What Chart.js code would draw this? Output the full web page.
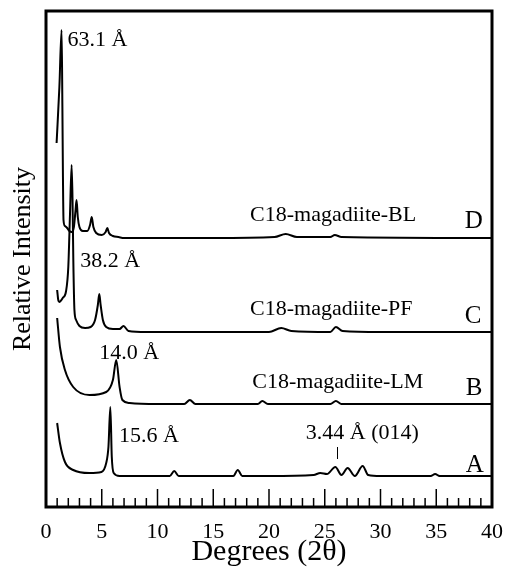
<!DOCTYPE html>
<html>
<head>
<meta charset="utf-8">
<script src="https://cdn.jsdelivr.net/npm/chart.js@4.4.1/dist/chart.umd.min.js"></script>
<style>
  html, body { margin: 0; padding: 0; background: #fff; }
  #wrap { width: 507px; height: 571px; }
</style>
</head>
<body>
<div id="wrap"><canvas id="chart-xrd" width="507" height="571"></canvas></div>
<script>
/**
 * XRD パターン - C18-magadiite (A-D)
 */
(function() {
  "use strict";

  // 2θ (deg) と強度（任意単位、軸は 0-496）
  var THETA_A = [1.0, 1.25, 1.7, 2.44, 3.9, 4.97, 5.4, 5.6, 5.77, 5.9, 6.07, 6.6, 9, 11.1, 11.5, 11.9, 15, 16.8, 17.2, 17.6, 20, 24, 24.6, 25.2, 25.95, 26.5, 27.05, 27.7, 28.4, 28.9, 30, 34.5, 34.9, 35.3, 40];
  var INT_A   = [84, 64, 45, 37, 34, 35, 44, 60, 100, 50, 34, 31, 31, 31, 36, 31, 31, 31, 37, 31, 31, 32, 34, 33, 40, 32, 39, 31, 41, 32, 31, 31, 33, 31, 31];

  var THETA_B = [1.0, 1.25, 1.7, 2.44, 3.9, 5.4, 6.0, 6.3, 6.6, 6.85, 7.5, 10, 12.4, 12.9, 13.4, 19, 19.4, 19.9, 25.5, 26, 26.5, 40];
  var INT_B   = [189, 160, 137, 120, 112, 115, 127, 147, 120, 107, 104, 103, 103, 107, 103, 103, 106, 103, 103, 106, 103, 103];

  var THETA_C = [1.0, 1.1, 1.2, 1.5, 1.8, 2.0, 2.15, 2.3, 2.38, 2.45, 2.55, 2.7, 3.0, 3.5, 4.0, 4.4, 4.65, 4.78, 4.9, 5.1, 5.4, 6.0, 6.6, 6.95, 7.4, 9, 15, 20, 21.1, 22, 25.5, 26, 26.6, 30, 40];
  var INT_C   = [217, 207, 205, 209, 216, 240, 292, 342, 307, 247, 197, 187, 181, 179, 180, 187, 202, 213, 202, 187, 180, 178, 178, 181, 176, 175, 175, 175, 179, 176, 175, 180, 176, 175, 175];

  var THETA_D = [0.95, 1.2, 1.4, 1.47, 1.52, 1.57, 1.7, 1.9, 2.1, 2.3, 2.5, 2.65, 2.74, 2.85, 3.0, 3.3, 3.7, 3.95, 4.1, 4.25, 4.5, 5.0, 5.35, 5.5, 5.65, 6.0, 6.5, 7.0, 15, 20.5, 21.5, 22.5, 25.5, 25.9, 26.5, 40];
  var INT_D   = [364, 420, 477, 400, 330, 287, 281, 279, 276, 275, 280, 297, 307, 290, 280, 276, 276, 282, 290, 280, 274, 272, 275, 279, 274, 271, 270, 269, 269, 270, 273, 270, 270, 272, 270, 269];

  // 注記（左下基準の位置: 2θ, 強度）
  var NOTE_TEXT = ['63.1 Å', '38.2 Å', '14.0 Å', '15.6 Å', '3.44 Å (014)',
                   'C18-magadiite-BL', 'C18-magadiite-PF', 'C18-magadiite-LM', 'D', 'C', 'B', 'A'];
  var NOTE_X    = [1.92, 3.07, 4.77, 6.55, 23.3, 18.3, 18.3, 18.5, 37.56, 37.56, 37.65, 37.65];
  var NOTE_Y    = [461, 240, 148, 65, 68, 286, 192, 119, 279, 184, 112, 35];
  var NOTE_SIZE = [22, 22, 22, 22, 22, 22, 22, 22, 25, 25, 25, 25];

  // (014) ピークの目印
  var MARK_014 = { x: 26.07, from: 48, to: 60 };

  var X_TICKS_MINOR = 1;
  var X_TICKS_MAJOR = 5;

  var SERIF = "'Liberation Serif', 'DejaVu Serif', serif";

  function toPoints(xs, ys) {
    return xs.map(function(x, i) { return { x: x, y: ys[i] }; });
  }

  function lineSet(xs, ys) {
    return {
      data: toPoints(xs, ys),
      borderColor: '#000',
      borderWidth: 2,
      pointRadius: 0,
      fill: false,
      cubicInterpolationMode: 'monotone'
    };
  }

  // 枠と内向きの目盛り
  var framePlugin = {
    id: 'frameTicks',
    afterDatasetsDraw: function(chart) {
      var ctx = chart.ctx;
      var a = chart.chartArea;
      var xs = chart.scales.x;
      ctx.save();
      ctx.strokeStyle = '#000';
      ctx.lineWidth = 1.5;
      for (var v = X_TICKS_MINOR; v < 40; v += X_TICKS_MINOR) {
        var px = xs.getPixelForValue(v);
        var len = (v % X_TICKS_MAJOR === 0) ? 18 : 9;
        ctx.beginPath();
        ctx.moveTo(px, a.bottom);
        ctx.lineTo(px, a.bottom - len);
        ctx.stroke();
      }
      ctx.lineWidth = 3;
      ctx.strokeRect(a.left, a.top, a.right - a.left, a.bottom - a.top);
      ctx.restore();
    }
  };

  // ピーク注記
  var notePlugin = {
    id: 'notes',
    afterDatasetsDraw: function(chart) {
      var ctx = chart.ctx;
      var xs = chart.scales.x;
      var ys = chart.scales.y;
      ctx.save();
      ctx.fillStyle = '#000';
      ctx.textAlign = 'left';
      ctx.textBaseline = 'alphabetic';
      NOTE_TEXT.forEach(function(t, i) {
        ctx.font = NOTE_SIZE[i] + 'px ' + SERIF;
        ctx.fillText(t, xs.getPixelForValue(NOTE_X[i]), ys.getPixelForValue(NOTE_Y[i]));
      });
      ctx.strokeStyle = '#000';
      ctx.lineWidth = 1;
      var mx = Math.round(xs.getPixelForValue(MARK_014.x)) + 0.5;
      ctx.beginPath();
      ctx.moveTo(mx, ys.getPixelForValue(MARK_014.to));
      ctx.lineTo(mx, ys.getPixelForValue(MARK_014.from));
      ctx.stroke();
      ctx.restore();
    }
  };

  function draw() {
    var ctx = document.getElementById('chart-xrd');
    new Chart(ctx, {
      type: 'line',
      data: {
        datasets: [
          lineSet(THETA_A, INT_A),
          lineSet(THETA_B, INT_B),
          lineSet(THETA_C, INT_C),
          lineSet(THETA_D, INT_D)
        ]
      },
      options: {
        responsive: false,
        animation: false,
        layout: { padding: { top: 11, right: 13, left: 0, bottom: 0 } },
        plugins: {
          legend: { display: false },
          tooltip: { enabled: false }
        },
        scales: {
          x: {
            type: 'linear',
            min: 0,
            max: 40,
            grid: { display: false },
            border: { display: false },
            ticks: {
              stepSize: 5,
              color: '#000',
              padding: 4,
              maxRotation: 0,
              autoSkip: false,
              font: { family: SERIF, size: 22 }
            },
            title: {
              display: true,
              text: 'Degrees (2θ)',
              color: '#000',
              font: { family: SERIF, size: 30 },
              padding: { top: 0, bottom: 1 }
            },
            afterFit: function(s) { s.height = 64; }
          },
          y: {
            min: 0,
            max: 496,
            grid: { display: false },
            border: { display: false },
            ticks: { display: false },
            title: {
              display: true,
              text: 'Relative Intensity',
              color: '#000',
              font: { family: SERIF, size: 26 },
              padding: { top: 8, bottom: 0 }
            },
            afterFit: function(s) { s.width = 46; }
          }
        }
      },
      plugins: [framePlugin, notePlugin]
    });
  }

  draw();
})();
</script>
</body>
</html>
